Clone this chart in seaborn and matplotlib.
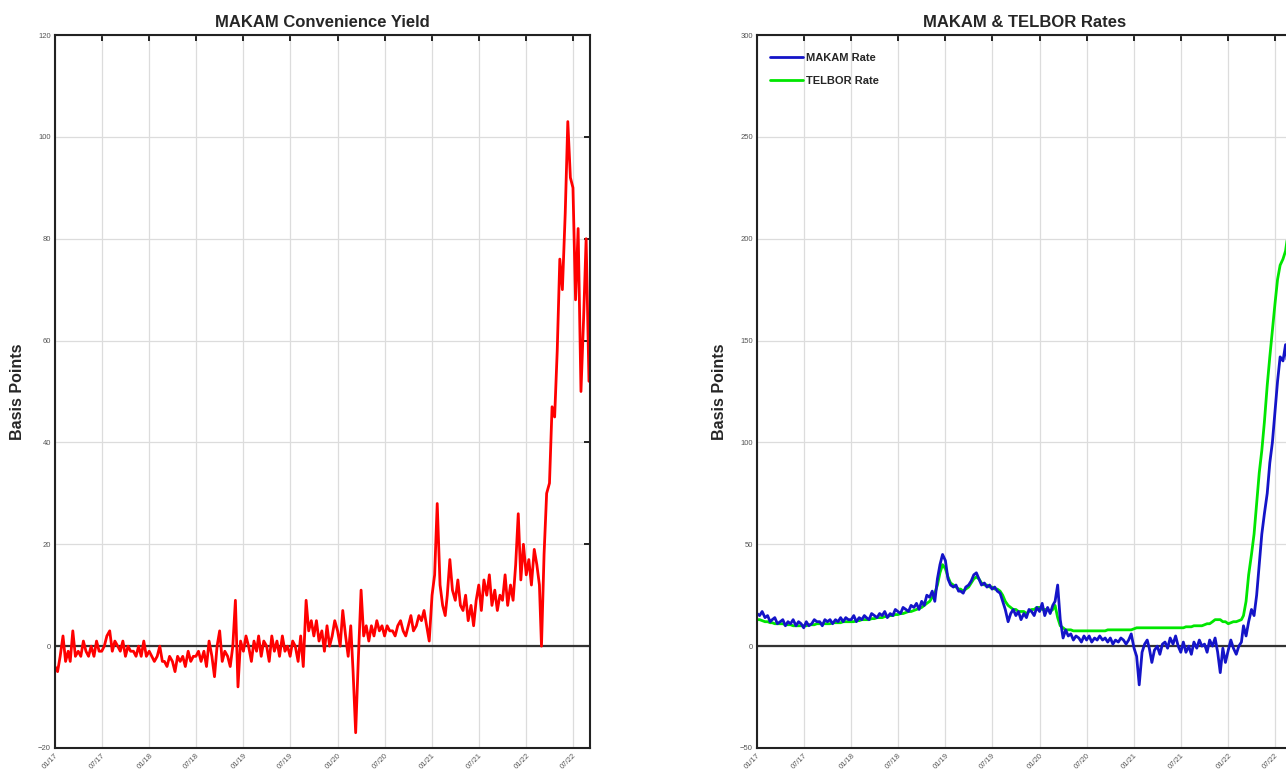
import numpy as np
import pandas as pd
import matplotlib
matplotlib.use("Agg")
import matplotlib.pyplot as plt
import matplotlib.dates as mdates
import seaborn as sns

# ---------------- data (3 readings per month: 1st, 11th, 21st) ----------------
cy_2017 = [-4, -5, -2, 2, -3, -1, -3, 3, -2, -1, -2, 1, -1, -2, 0, -2, 1, -1,
           -1, 0, 2, 3, -1, 1, 0, -1, 1, -2, 0, -1, -1, -2, 0, -2, 1, -2]
cy_2018 = [-1, -2, -3, -2, 0, -3, -3, -4, -2, -3, -5, -2, -3, -2, -4, -1, -3, -2,
           -2, -1, -3, -1, -4, 1, -2, -6, 0, 3, -3, -1, -2, -4, 0, 9, -8, 1]
cy_2019 = [-1, 2, 0, -3, 1, -1, 2, -2, 1, 0, -3, 2, -1, 1, -2, 2, -1, 0,
           -2, 1, 0, -3, 2, -4, 9, 3, 5, 2, 5, 1, 3, -1, 4, 0, 2, 5]
cy_2020 = [3, 0, 7, 2, -2, 4, -5, -17, -3, 11, 2, 4, 1, 4, 2, 5, 3, 4,
           2, 4, 3, 3, 2, 4, 5, 3, 2, 4, 6, 3, 4, 6, 5, 7, 4, 1]
cy_2021 = [10, 14, 28, 12, 8, 6, 10, 17, 11, 9, 13, 8, 7, 10, 5, 8, 4, 9,
           12, 7, 13, 10, 14, 8, 11, 7, 10, 9, 14, 8, 12, 9, 16, 26, 13, 20]
cy_2022 = [14, 17, 12, 19, 16, 12, 0, 18, 30, 32, 47, 45, 58, 76, 70,
           85, 103, 92, 90, 68, 82, 50, 64, 80, 52]

telbor_2017 = [13, 13, 12.5, 12, 12, 11.5, 11.5, 11, 11, 11, 11, 10.5, 10.5, 10.5, 10,
               10, 10, 10, 10, 10, 10.5, 10.5, 10.5, 11, 11, 11, 11, 11, 11, 11.5,
               11.5, 11.5, 11.5, 12, 12, 12]
telbor_2018 = [12, 12, 12.5, 12.5, 13, 13, 13, 13, 13.5, 13.5, 14, 14, 14, 14.5, 14.5,
               15, 15, 15.5, 15.5, 16, 16, 16.5, 17, 17, 17.5, 18, 18.5, 19, 20, 21,
               22, 24, 26, 30, 36, 40]
telbor_2019 = [38, 34, 31, 30, 29, 28, 28, 27, 28, 29, 31, 33, 34, 33, 31, 30, 30, 29,
               29, 28, 28, 27, 25, 22, 20, 19, 18, 18, 17, 17, 17, 16, 17, 18, 18, 19]
telbor_2020 = [19, 18, 18, 18, 17, 18, 20, 14, 10, 9, 8, 8, 8, 7.5, 7.5, 7.5, 7.5, 7.5,
               7.5, 7.5, 7.5, 7.5, 7.5, 7.5, 7.5, 7.5, 8, 8, 8, 8, 8, 8, 8, 8, 8, 8]
telbor_2021 = [8.5, 9, 9, 9, 9, 9, 9, 9, 9, 9, 9, 9, 9, 9, 9, 9, 9, 9,
               9, 9, 9.5, 9.5, 9.5, 10, 10, 10, 10, 10.5, 11, 11, 12, 13, 13, 13, 12, 12]
telbor_2022 = [11, 11.5, 12, 12, 12.5, 13, 15, 22, 35, 45, 55, 70, 85, 96, 110,
               128, 142, 155, 168, 180, 187, 190, 194, 203, 207]

makam_2017 = [16, 15, 17, 14, 15, 12, 13, 14, 11, 12, 13, 10, 12, 11, 13, 10, 12, 11,
              9, 12, 10, 11, 13, 12, 12, 10, 13, 12, 13, 11, 13, 12, 14, 12, 14, 13]
makam_2018 = [13, 15, 12, 14, 13, 15, 14, 13, 16, 15, 14, 16, 15, 17, 14, 16, 15, 18,
              17, 16, 19, 18, 17, 20, 19, 21, 18, 22, 20, 25, 24, 27, 22, 33, 40, 45]
makam_2019 = [42, 33, 30, 29, 30, 27, 27, 26, 29, 30, 32, 35, 36, 33, 30, 31, 29, 30,
              28, 29, 27, 26, 22, 18, 12, 16, 18, 15, 17, 13, 16, 14, 18, 17, 15, 19]
makam_2020 = [17, 21, 15, 19, 16, 20, 22, 30, 13, 4, 8, 5, 6, 3, 5, 4, 2, 5,
              3, 5, 2, 4, 3, 5, 3, 4, 2, 4, 1, 3, 2, 4, 3, 1, 3, 6]
makam_2021 = [-1, -5, -19, -3, 1, 3, -1, -8, -2, 0, -4, 1, 2, -1, 4, 1, 5, 0,
              -3, 2, -3, 0, -4, 2, -1, 3, 0, 1, -3, 3, 0, 4, -3, -13, -1, -8]
makam_2022 = [-2, 3, -1, -4, 0, 2, 10, 5, 12, 18, 15, 25, 40, 55, 65,
              75, 90, 100, 115, 130, 142, 140, 148, 135, 152]

convenience_yield = cy_2017 + cy_2018 + cy_2019 + cy_2020 + cy_2021 + cy_2022
telbor_rate = telbor_2017 + telbor_2018 + telbor_2019 + telbor_2020 + telbor_2021 + telbor_2022
makam_rate = makam_2017 + makam_2018 + makam_2019 + makam_2020 + makam_2021 + makam_2022

month_starts = pd.date_range("2017-01-01", "2022-08-01", freq="MS")
dates = [m + pd.Timedelta(days=d) for m in month_starts for d in (0, 10, 20)]
dates.append(pd.Timestamp("2022-09-01"))

titles = ["MAKAM Convenience Yield", "MAKAM & TELBOR Rates"]
y_label = "Basis Points"
series_labels = ["MAKAM Rate", "TELBOR Rate"]

df = pd.DataFrame({"date": dates, "cy": convenience_yield,
                   "makam": makam_rate, "telbor": telbor_rate})

# ---------------- figure ----------------
sns.set_style("white")
plt.rcParams["font.family"] = ["Liberation Sans", "DejaVu Sans"]

fig = plt.figure(figsize=(12.86, 7.78), dpi=100)
W, H = 1286.0, 778.0
ax1 = fig.add_axes([55 / W, 30 / H, 535 / W, 713 / H])
ax2 = fig.add_axes([757 / W, 30 / H, 535 / W, 713 / H])

sns.lineplot(data=df, x="date", y="cy", ax=ax1, color="#ff0000", linewidth=2.0)
sns.lineplot(data=df, x="date", y="telbor", ax=ax2, color="#00e600", linewidth=2.0,
             label=series_labels[1])
sns.lineplot(data=df, x="date", y="makam", ax=ax2, color="#1414c8", linewidth=2.0,
             label=series_labels[0])

x0, x1 = pd.Timestamp("2017-01-01"), pd.Timestamp("2022-09-05")
for ax, title, ylim, ystep in [(ax1, titles[0], (-20, 120), 20),
                               (ax2, titles[1], (-50, 300), 50)]:
    ax.axhline(0, color="#333333", linewidth=1.6, zorder=1)
    ax.set_xlim(x0, x1)
    ax.set_ylim(*ylim)
    ax.set_yticks(np.arange(ylim[0], ylim[1] + 1, ystep))
    ax.xaxis.set_major_locator(mdates.MonthLocator(bymonth=[1, 7]))
    ax.xaxis.set_major_formatter(mdates.DateFormatter("%m/%y"))
    ax.grid(True, color="#dcdcdc", linewidth=0.9)
    ax.set_axisbelow(True)
    ax.tick_params(axis="both", direction="in", length=4, width=1.4,
                   top=True, right=True, labelsize=5.5, labelcolor="#555555",
                   color="#222222", pad=3)
    plt.setp(ax.get_xticklabels(), rotation=45, ha="right", rotation_mode="anchor")
    for sp in ax.spines.values():
        sp.set_color("#222222")
        sp.set_linewidth(1.5)
    ax.set_title(title, fontsize=12, fontweight="bold", pad=6)
    ax.set_xlabel("")
    ax.set_ylabel(y_label, fontsize=11.5, fontweight="bold", labelpad=9)

handles, labels = ax2.get_legend_handles_labels()
order = [labels.index(series_labels[0]), labels.index(series_labels[1])]
leg = ax2.legend([handles[i] for i in order], [labels[i] for i in order],
                 loc="upper left", bbox_to_anchor=(0.0, 0.9934), frameon=False,
                 prop={"weight": "bold", "size": 8}, handlelength=3.0,
                 handletextpad=0.25, labelspacing=1.2, borderaxespad=0.78)

fig.savefig("out.png", dpi=100)
